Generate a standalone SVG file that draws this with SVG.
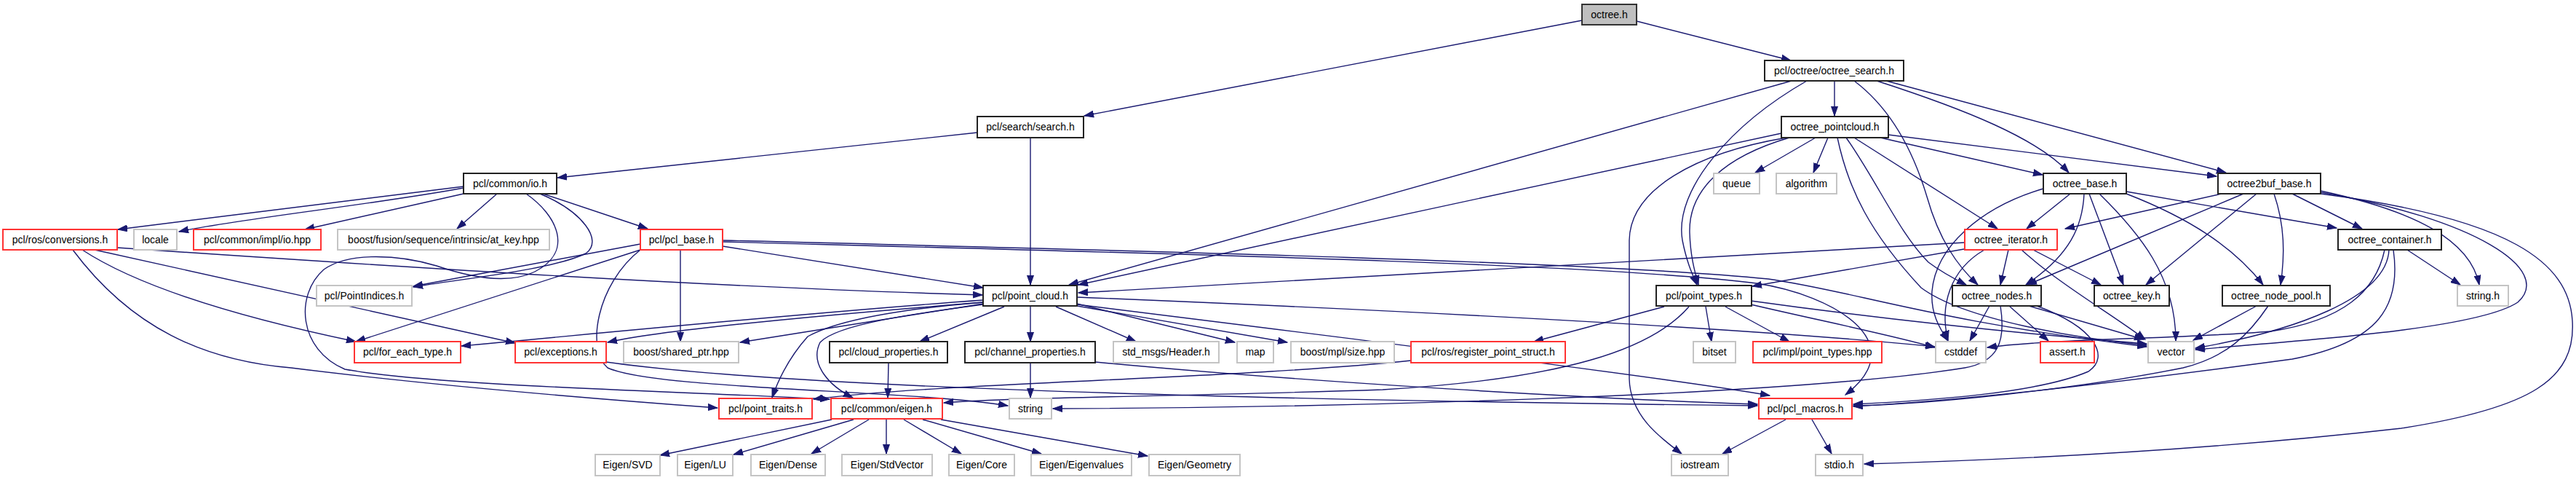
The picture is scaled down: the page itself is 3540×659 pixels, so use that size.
<svg xmlns="http://www.w3.org/2000/svg" width="3540" height="659" viewBox="0 0 3540 659">
<defs>
<marker id="a" markerUnits="userSpaceOnUse" markerWidth="14" markerHeight="10" refX="13" refY="5" orient="auto"><path d="M0,0.5 L13,5 L0,9.5 z" fill="#191970" stroke="#191970" stroke-width="1"/></marker>
<style>
.b rect{fill:#fff;stroke:#222;stroke-width:2}
.r rect{fill:#fff;stroke:#f33;stroke-width:2}
.g rect{fill:#fff;stroke:#c4c4c4;stroke-width:2}
.root rect{fill:#bfbfbf;stroke:#333;stroke-width:2}
text{font-family:"Liberation Sans",Arial,Helvetica,sans-serif;font-size:14px;fill:#000;text-anchor:middle}
#edges path{fill:none;stroke:#191970;stroke-width:1.4;marker-end:url(#a)}
</style>
</defs>
<rect width="3540" height="659" fill="#fff"/>
<g id="edges">
<path d="M2174,28 L1490,159"/>
<path d="M2249,29 L2461,83"/>
<path d="M1343,182 L766,244"/>
<path d="M1416,189 L1416,391"/>
<path d="M2462,111 L1469,391"/>
<path d="M2483,111 C2380,170 2300,260 2312,330 C2318,360 2325,375 2332,391"/>
<path d="M2521,111 L2521,159"/>
<path d="M2548,111 C2600,150 2630,210 2648,270 C2665,330 2690,365 2718,391"/>
<path d="M2579,111 C2700,150 2800,190 2843,237"/>
<path d="M2592,111 L3059,237"/>
<path d="M2448,183 L1482,391"/>
<path d="M2459,189 C2370,215 2320,260 2322,320 C2323,350 2328,370 2334,391"/>
<path d="M2455,189 C2330,210 2240,260 2239,330 L2239,520 C2240,570 2280,600 2311,623"/>
<path d="M2495,189 L2412,237"/>
<path d="M2512,189 L2492,237"/>
<path d="M2525,189 C2540,260 2570,320 2640,395 C2700,440 2860,465 2950,474"/>
<path d="M2537,189 C2580,250 2610,320 2650,360 C2670,375 2690,385 2702,391"/>
<path d="M2548,189 L2745,314"/>
<path d="M2584,189 L2807,240"/>
<path d="M2595,185 L3046,242"/>
<path d="M2808,259 C2720,285 2660,340 2655,400 C2653,430 2665,450 2677,468"/>
<path d="M2845,266 L2785,314"/>
<path d="M2864,266 C2862,310 2845,350 2784,391"/>
<path d="M2871,266 L2918,391"/>
<path d="M2885,266 C2940,320 2990,380 2990,468"/>
<path d="M2922,266 C3010,300 3070,340 3110,391"/>
<path d="M2922,263 L3211,313"/>
<path d="M3053,266 L2838,314"/>
<path d="M3083,266 L2786,391"/>
<path d="M3101,266 L2949,391"/>
<path d="M3125,266 C3140,310 3140,350 3134,391"/>
<path d="M3150,266 L3246,314"/>
<path d="M3189,262 C3320,290 3395,330 3407,391"/>
<path d="M3189,264 C3400,300 3510,370 3460,415 C3400,455 3120,470 3017,480"/>
<path d="M3189,266 C3450,300 3530,360 3535,440 C3540,520 3480,560 3300,588 C3000,622 2700,633 2562,637"/>
<path d="M3277,343 C3265,400 3220,440 3120,455 C3000,465 2820,465 2731,477"/>
<path d="M3283,343 C3280,410 3150,455 3017,478"/>
<path d="M3289,343 C3300,420 3270,470 3150,493 C2950,520 2700,550 2547,558"/>
<path d="M3308,343 L3381,391"/>
<path d="M2700,333 L1482,402"/>
<path d="M2699,342 L2408,393"/>
<path d="M2727,343 C2680,370 2665,420 2677,467"/>
<path d="M2760,343 L2749,391"/>
<path d="M2778,343 C2830,390 2900,430 2948,466"/>
<path d="M2794,343 L2887,391"/>
<path d="M2734,420 L2707,468"/>
<path d="M2749,420 C2757,470 2745,497 2700,505 C2450,545 1800,560 1447,561"/>
<path d="M2761,420 L2815,468"/>
<path d="M2788,420 L2946,466"/>
<path d="M2799,420 C2880,450 2900,490 2870,510 C2800,540 2650,550 2547,555"/>
<path d="M3101,420 L3014,467"/>
<path d="M3117,420 C3090,460 3060,490 3000,505 C2850,535 2650,555 2547,557"/>
<path d="M2287,421 L2108,469"/>
<path d="M2344,421 L2352,469"/>
<path d="M2371,421 L2459,469"/>
<path d="M2406,418 C2500,440 2600,460 2659,477"/>
<path d="M2406,413 C2600,440 2800,460 2950,472"/>
<path d="M2321,421 C2270,480 2150,520 1900,535 C1600,545 1400,545 1297,553"/>
<path d="M1351,412 C1100,430 800,460 634,475"/>
<path d="M1351,415 C1100,435 900,455 835,470"/>
<path d="M1351,417 L1017,470"/>
<path d="M1351,415 C1230,425 1150,440 1110,462 C1085,490 1070,520 1061,546"/>
<path d="M1351,418 C1260,430 1150,445 1127,470 C1112,500 1140,530 1172,546"/>
<path d="M1380,421 L1264,469"/>
<path d="M1416,421 L1416,469"/>
<path d="M1451,421 L1561,469"/>
<path d="M1480,417 L1697,470"/>
<path d="M1480,420 L1769,470"/>
<path d="M1480,408 C1900,425 2400,450 2659,476"/>
<path d="M1480,418 C1900,470 2300,520 2432,543"/>
<path d="M880,335 L568,393"/>
<path d="M880,343 L489,469"/>
<path d="M935,343 L935,469"/>
<path d="M993,338 L1351,395"/>
<path d="M993,330 C1600,345 2200,360 2430,383 C2550,400 2650,440 2950,476"/>
<path d="M993,332 C1600,348 2200,362 2414,389 C2520,405 2630,470 2536,542"/>
<path d="M880,343 C820,390 805,480 835,505 C900,535 1250,535 1385,557"/>
<path d="M637,256 L162,315"/>
<path d="M637,258 C520,280 330,300 246,318"/>
<path d="M637,266 L419,315"/>
<path d="M683,266 L628,314"/>
<path d="M746,266 L890,314"/>
<path d="M742,266 C800,290 830,330 805,348 C760,370 640,382 568,394"/>
<path d="M723,266 C765,295 790,345 735,373 C700,390 650,382 600,365 C550,350 480,345 445,370 C405,405 410,480 474,507 C600,530 950,538 1140,548"/>
<path d="M100,343 C180,450 280,495 400,505 C600,530 850,550 986,560"/>
<path d="M113,343 C200,400 350,440 489,469"/>
<path d="M130,343 L708,471"/>
<path d="M161,340 C600,370 1000,395 1350,405"/>
<path d="M833,497 C1100,535 1800,550 2415,557"/>
<path d="M1505,497 C1800,525 2200,548 2415,555"/>
<path d="M1416,498 L1416,546"/>
<path d="M1221,498 L1220,546"/>
<path d="M1939,495 C1700,520 1300,525 1118,548"/>
<path d="M1143,576 L907,625"/>
<path d="M1173,576 L1008,624"/>
<path d="M1194,576 L1115,623"/>
<path d="M1218,576 L1218,623"/>
<path d="M1242,576 L1321,623"/>
<path d="M1268,576 L1431,623"/>
<path d="M1293,576 L1577,626"/>
<path d="M2454,576 L2367,623"/>
<path d="M2490,576 L2517,623"/>
</g>
<g id="n_octree" class="root"><rect x="2174" y="6" width="75" height="28"/><text x="2211.5" y="25">octree.h</text></g>
<g id="n_osearch" class="b"><rect x="2425" y="83" width="191" height="28"/><text x="2520.5" y="102">pcl/octree/octree_search.h</text></g>
<g id="n_search" class="b"><rect x="1343" y="160" width="146" height="29"/><text x="1416" y="179">pcl/search/search.h</text></g>
<g id="n_opc" class="b"><rect x="2448" y="160" width="147" height="29"/><text x="2521.5" y="179">octree_pointcloud.h</text></g>
<g id="n_io" class="b"><rect x="637" y="238" width="128" height="28"/><text x="701" y="257">pcl/common/io.h</text></g>
<g id="n_queue" class="g"><rect x="2355" y="238" width="63" height="28"/><text x="2386.5" y="257">queue</text></g>
<g id="n_algorithm" class="g"><rect x="2441" y="238" width="83" height="28"/><text x="2482.5" y="257">algorithm</text></g>
<g id="n_obase" class="b"><rect x="2808" y="238" width="114" height="28"/><text x="2865" y="257">octree_base.h</text></g>
<g id="n_o2buf" class="b"><rect x="3048" y="238" width="141" height="28"/><text x="3118.5" y="257">octree2buf_base.h</text></g>
<g id="n_conv" class="r"><rect x="4" y="315" width="157" height="28"/><text x="82.5" y="334">pcl/ros/conversions.h</text></g>
<g id="n_locale" class="g"><rect x="184" y="315" width="59" height="28"/><text x="213.5" y="334">locale</text></g>
<g id="n_iohpp" class="r"><rect x="266" y="315" width="175" height="28"/><text x="353.5" y="334">pcl/common/impl/io.hpp</text></g>
<g id="n_atkey" class="g"><rect x="464" y="315" width="291" height="28"/><text x="609.5" y="334">boost/fusion/sequence/intrinsic/at_key.hpp</text></g>
<g id="n_pclbase" class="r"><rect x="880" y="315" width="113" height="28"/><text x="936.5" y="334">pcl/pcl_base.h</text></g>
<g id="n_oiter" class="r"><rect x="2700" y="315" width="127" height="28"/><text x="2763.5" y="334">octree_iterator.h</text></g>
<g id="n_ocont" class="b"><rect x="3213" y="315" width="142" height="28"/><text x="3284" y="334">octree_container.h</text></g>
<g id="n_pidx" class="g"><rect x="435" y="392" width="131" height="28"/><text x="500.5" y="411">pcl/PointIndices.h</text></g>
<g id="n_pcloud" class="b"><rect x="1351" y="392" width="129" height="28"/><text x="1415.5" y="411">pcl/point_cloud.h</text></g>
<g id="n_ptypes" class="b"><rect x="2276" y="392" width="131" height="28"/><text x="2341.5" y="411">pcl/point_types.h</text></g>
<g id="n_onodes" class="b"><rect x="2683" y="392" width="122" height="28"/><text x="2744" y="411">octree_nodes.h</text></g>
<g id="n_okey" class="b"><rect x="2878" y="392" width="103" height="28"/><text x="2929.5" y="411">octree_key.h</text></g>
<g id="n_opool" class="b"><rect x="3054" y="392" width="148" height="28"/><text x="3128" y="411">octree_node_pool.h</text></g>
<g id="n_stringh" class="g"><rect x="3377" y="392" width="70" height="28"/><text x="3412" y="411">string.h</text></g>
<g id="n_foreach" class="r"><rect x="487" y="469" width="146" height="29"/><text x="560" y="488">pcl/for_each_type.h</text></g>
<g id="n_except" class="r"><rect x="708" y="469" width="125" height="29"/><text x="770.5" y="488">pcl/exceptions.h</text></g>
<g id="n_sharedptr" class="g"><rect x="857" y="469" width="158" height="29"/><text x="936" y="488">boost/shared_ptr.hpp</text></g>
<g id="n_cloudprop" class="b"><rect x="1140" y="469" width="162" height="29"/><text x="1221" y="488">pcl/cloud_properties.h</text></g>
<g id="n_chanprop" class="b"><rect x="1326" y="469" width="179" height="29"/><text x="1415.5" y="488">pcl/channel_properties.h</text></g>
<g id="n_header" class="g"><rect x="1530" y="469" width="145" height="29"/><text x="1602.5" y="488">std_msgs/Header.h</text></g>
<g id="n_map" class="g"><rect x="1700" y="469" width="50" height="29"/><text x="1725" y="488">map</text></g>
<g id="n_mplsize" class="g"><rect x="1774" y="469" width="142" height="29"/><text x="1845" y="488">boost/mpl/size.hpp</text></g>
<g id="n_regps" class="r"><rect x="1939" y="469" width="212" height="29"/><text x="2045" y="488">pcl/ros/register_point_struct.h</text></g>
<g id="n_bitset" class="g"><rect x="2327" y="469" width="58" height="29"/><text x="2356" y="488">bitset</text></g>
<g id="n_impltypes" class="r"><rect x="2409" y="469" width="177" height="29"/><text x="2497.5" y="488">pcl/impl/point_types.hpp</text></g>
<g id="n_cstddef" class="g"><rect x="2660" y="469" width="69" height="29"/><text x="2694.5" y="488">cstddef</text></g>
<g id="n_assert" class="r"><rect x="2804" y="469" width="74" height="29"/><text x="2841" y="488">assert.h</text></g>
<g id="n_vector" class="g"><rect x="2952" y="469" width="63" height="29"/><text x="2983.5" y="488">vector</text></g>
<g id="n_ptraits" class="r"><rect x="988" y="547" width="128" height="28"/><text x="1052" y="566">pcl/point_traits.h</text></g>
<g id="n_eigen" class="r"><rect x="1142" y="547" width="153" height="28"/><text x="1218.5" y="566">pcl/common/eigen.h</text></g>
<g id="n_string" class="g"><rect x="1387" y="547" width="58" height="28"/><text x="1416" y="566">string</text></g>
<g id="n_macros" class="r"><rect x="2417" y="547" width="128" height="28"/><text x="2481" y="566">pcl/pcl_macros.h</text></g>
<g id="n_svd" class="g"><rect x="818" y="624" width="89" height="29"/><text x="862.5" y="643">Eigen/SVD</text></g>
<g id="n_lu" class="g"><rect x="931" y="624" width="76" height="29"/><text x="969" y="643">Eigen/LU</text></g>
<g id="n_dense" class="g"><rect x="1032" y="624" width="102" height="29"/><text x="1083" y="643">Eigen/Dense</text></g>
<g id="n_stdvec" class="g"><rect x="1157" y="624" width="124" height="29"/><text x="1219" y="643">Eigen/StdVector</text></g>
<g id="n_core" class="g"><rect x="1304" y="624" width="90" height="29"/><text x="1349" y="643">Eigen/Core</text></g>
<g id="n_eigvals" class="g"><rect x="1417" y="624" width="138" height="29"/><text x="1486" y="643">Eigen/Eigenvalues</text></g>
<g id="n_geom" class="g"><rect x="1579" y="624" width="125" height="29"/><text x="1641.5" y="643">Eigen/Geometry</text></g>
<g id="n_iostream" class="g"><rect x="2297" y="624" width="78" height="29"/><text x="2336" y="643">iostream</text></g>
<g id="n_stdio" class="g"><rect x="2495" y="624" width="65" height="29"/><text x="2527.5" y="643">stdio.h</text></g>
</svg>
